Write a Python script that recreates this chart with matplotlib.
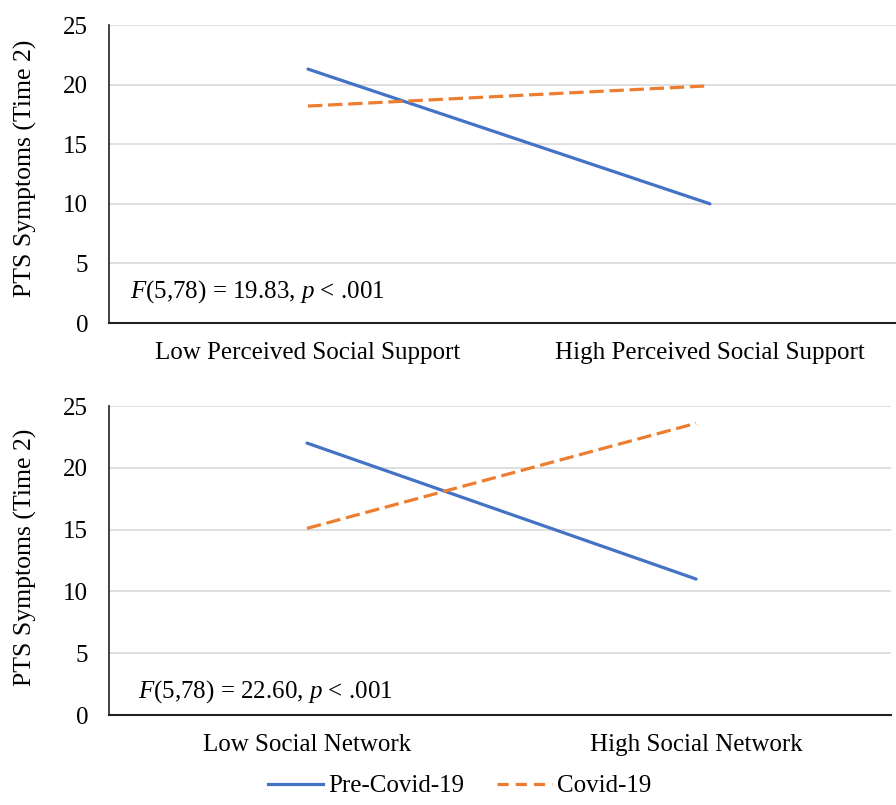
import matplotlib
matplotlib.use("Agg")
import matplotlib.pyplot as plt
from matplotlib.lines import Line2D

plt.rcParams['font.family'] = ['Liberation Serif', 'DejaVu Serif']
plt.rcParams['mathtext.fontset'] = 'custom'
plt.rcParams['mathtext.it'] = 'Liberation Serif:italic'
plt.rcParams['mathtext.rm'] = 'Liberation Serif'

# Data
top_categories = ["Low Perceived Social Support", "High Perceived Social Support"]
top_pre = [21.3, 10.0]
top_covid = [18.2, 19.9]
top_stat = "F(5,78) = 19.83, p < .001"

bot_categories = ["Low Social Network", "High Social Network"]
bot_pre = [22.0, 11.0]
bot_covid = [15.1, 23.6]
bot_stat = "F(5,78) = 22.60, p < .001"

series_names = ["Pre-Covid-19", "Covid-19"]
yticks = [0, 5, 10, 15, 20, 25]
ylabel = "PTS Symptoms (Time 2)"

BLUE = "#4472C4"
ORANGE = "#ED7D31"
FS = 18
LW = 2.3
DASH = (0, (4.5, 1.8))

fig = plt.figure(figsize=(8.96, 8.05), dpi=100)
ax1 = fig.add_axes([109/896, 1-323/805, (896-109)/896, 298/805])
ax2 = fig.add_axes([109/896, 1-715/805, (891-109)/896, 309/805])

def style(ax, cats, pre, cov, stat, xlim, lab_y, txt_xy):
    x = list(range(len(cats)))
    ax.plot(x, pre, color=BLUE, lw=LW, solid_capstyle='round')
    ax.plot(x, cov, color=ORANGE, lw=LW, linestyle=DASH)
    ax.set_xlim(*xlim)
    ax.set_ylim(0, 25)
    ax.set_yticks(yticks)
    ax.set_xticks(x)
    ax.set_xticklabels(cats, fontsize=FS)
    ax.tick_params(axis='both', length=0, labelsize=FS)
    ax.tick_params(axis='y', pad=15)
    ax.tick_params(axis='x', pad=14)
    ax.grid(axis='y', color='#D9D9D9', lw=1.2)
    ax.set_axisbelow(True)
    for s in ['top', 'right']:
        ax.spines[s].set_visible(False)
    ax.spines['left'].set_color('#222222')
    ax.spines['bottom'].set_color('#222222')
    ax.spines['left'].set_linewidth(1.2)
    ax.spines['bottom'].set_linewidth(1.5)
    ax.set_ylabel(ylabel, fontsize=18.5)
    ax.yaxis.set_label_coords(-0.0915, lab_y)
    f, rest = stat.split("(", 1)
    parts = rest.split("p")
    txt = r"$\it{F}$" + "(" + parts[0] + r"$\it{p}$" + parts[1]
    ax.text(txt_xy[0], txt_xy[1], txt, transform=ax.transAxes, fontsize=FS,
            va='center', ha='left')

style(ax1, top_categories, top_pre, top_covid, top_stat, (-0.495, 1.463), 0.518, (0.027, 0.107))
style(ax2, bot_categories, bot_pre, bot_covid, bot_stat, (-0.509, 1.501), 0.51, (0.037, 0.075))

handles = [Line2D([], [], color=BLUE, lw=LW),
           Line2D([], [], color=ORANGE, lw=LW, linestyle=(0, (3.5, 2.2)))]
fig.legend(handles, series_names, loc='center', bbox_to_anchor=(0.513, 1-786/805),
           ncol=2, frameon=False, fontsize=FS, handlelength=2.2, columnspacing=1.3,
           handletextpad=0.2)

fig.savefig("out.png", dpi=100)
